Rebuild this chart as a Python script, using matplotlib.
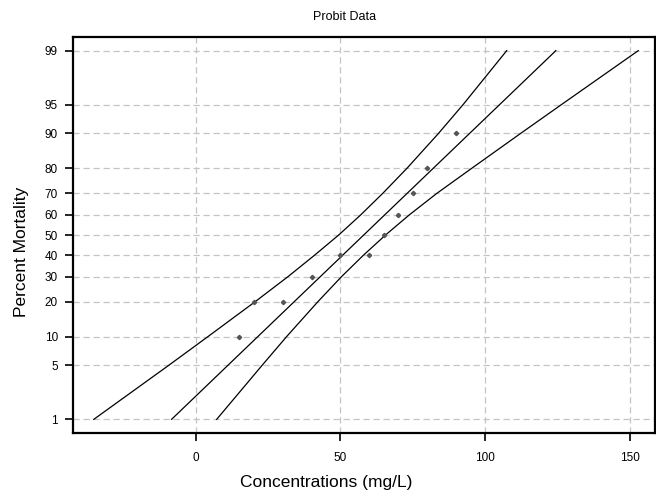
import numpy as np
import matplotlib
matplotlib.use('Agg')
import matplotlib.pyplot as plt
from statistics import NormalDist

plt.rcParams['font.family'] = ['Liberation Sans', 'DejaVu Sans']

# observed data
conc = [15, 20, 30, 40, 50, 60, 65, 70, 75, 80, 90]
mortality = [10, 20, 20, 30, 40, 40, 50, 60, 70, 80, 90]

# probit fit line (percent -> concentration)
fit_pct = [1, 99]
fit_conc = [-8.4, 124.5]

# confidence bounds read at each percent level
band_pct = [1, 5, 10, 20, 30, 40, 50, 60, 70, 80, 90, 95, 99]
lower_conc = [-35.3, -9.4, 4.2, 20.5, 31.9, 41.1, 49.4, 57.0, 64.6, 73.0, 83.9, 92.4, 107.5]
upper_conc = [7.2, 22.9, 31.4, 42.2, 50.4, 58.0, 65.6, 73.8, 83.3, 95.4, 112.3, 126.4, 153.0]

y_ticks = [1, 5, 10, 20, 30, 40, 50, 60, 70, 80, 90, 95, 99]
x_ticks = [0, 50, 100, 150]


def probit(p):
    nd = NormalDist()
    return np.array([nd.inv_cdf(v / 100.0) for v in p])


fig = plt.figure(figsize=(6.56, 4.96), dpi=100)
ax = fig.add_axes([0.1117, 0.1276, 0.8868, 0.7972])

ax.plot(lower_conc, probit(band_pct), color='black', linewidth=0.9)
ax.plot(fit_conc, probit(fit_pct), color='black', linewidth=0.9)
ax.plot(upper_conc, probit(band_pct), color='black', linewidth=0.9)
ax.plot(conc, probit(mortality), linestyle='none', marker='D', markersize=2.2,
        color='#555555')

ax.set_xlim(-42.4, 158.8)
ax.set_ylim(-2.495, 2.495)
ax.set_yticks(probit(y_ticks))
ax.set_yticklabels([str(v) for v in y_ticks])
ax.set_xticks(x_ticks)

ax.grid(True, color='#c4c4c4', linestyle=(0, (5, 3)), linewidth=0.9)
ax.set_axisbelow(True)
for s in ax.spines.values():
    s.set_linewidth(1.6)
ax.tick_params(axis='both', direction='out', length=6, width=1.2,
               labelsize=8.5, colors='black')
ax.tick_params(axis='x', pad=8)
ax.tick_params(axis='y', pad=5)

# titles are centred on the figure rather than on the plot area
fig.text(345 / 656, 1 - 17 / 496, 'Probit Data', fontsize=9,
         ha='center', va='center')
fig.text(326 / 656, 1 - 482 / 496, 'Concentrations (mg/L)', fontsize=12.5,
         ha='center', va='center')
fig.text(22 / 656, 1 - 252 / 496, 'Percent Mortality', fontsize=12.5,
         ha='center', va='center', rotation=90)

fig.savefig('out.png', dpi=100)
